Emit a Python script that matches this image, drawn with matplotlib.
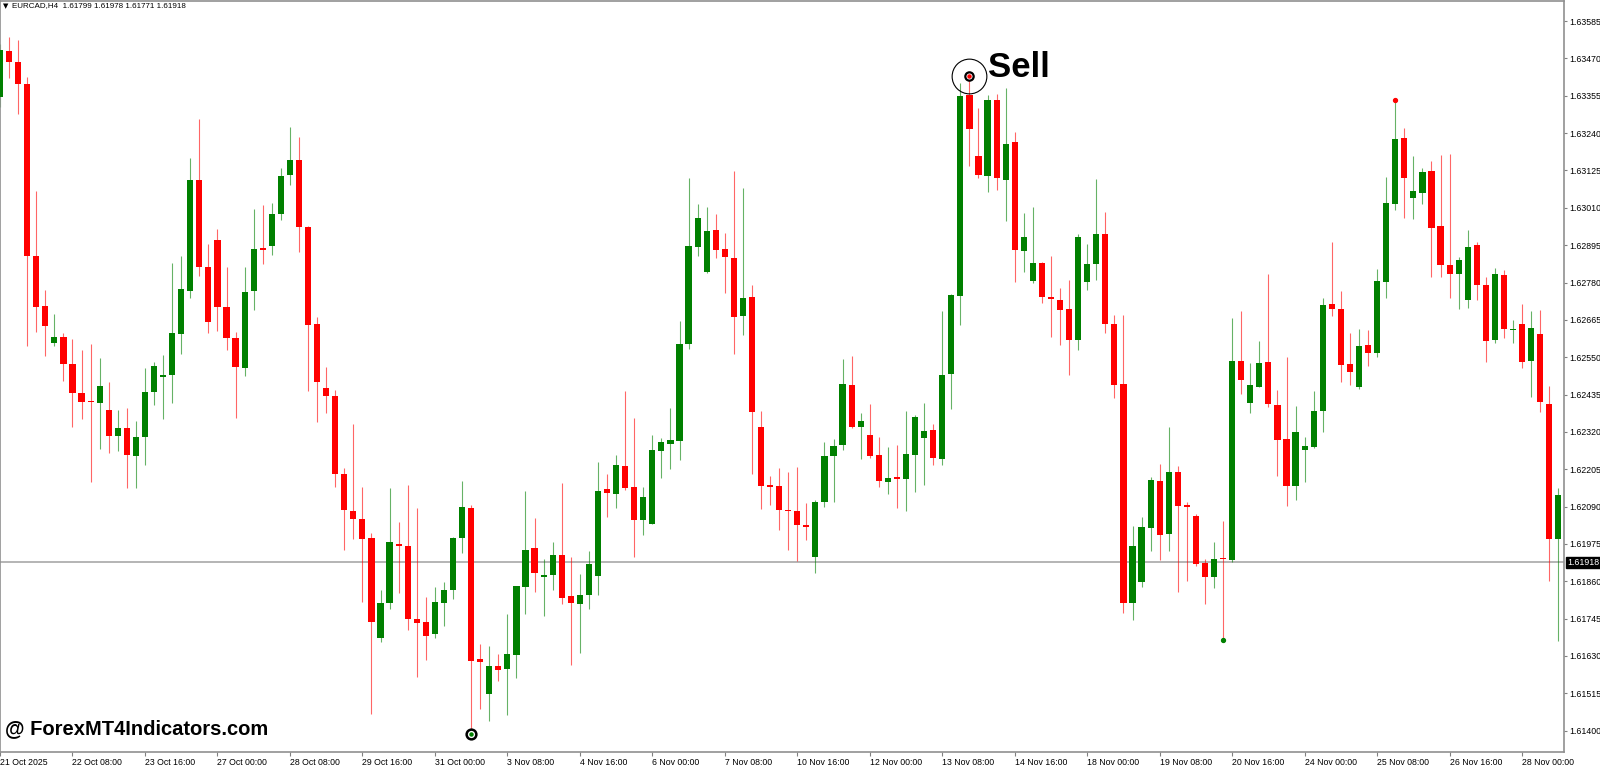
import matplotlib
matplotlib.use("Agg")
import matplotlib.pyplot as plt

# EURCAD H4 candles (bar 0 = 21 Oct 2025 00:00)
opens = [1.63351, 1.63493, 1.63459, 1.63391, 1.62862, 1.62708, 1.62594, 1.62612, 1.62529, 1.62440,
         1.62415, 1.62409, 1.62387, 1.62307, 1.62332, 1.62246, 1.62304, 1.62443, 1.62489, 1.62495,
         1.62621, 1.62754, 1.63096, 1.62828, 1.62911, 1.62704, 1.62609, 1.62517, 1.62754, 1.62886,
         1.62892, 1.62991, 1.63111, 1.63157, 1.62951, 1.62652, 1.62455, 1.62430, 1.62190, 1.62076,
         1.62052, 1.61993, 1.61685, 1.61793, 1.61975, 1.61968, 1.61744, 1.61734, 1.61697, 1.61793,
         1.61833, 1.61993, 1.62085, 1.61620, 1.61513, 1.61599, 1.61590, 1.61633, 1.61842, 1.61962,
         1.61873, 1.61879, 1.61941, 1.61814, 1.61790, 1.61817, 1.61876, 1.62144, 1.62129, 1.62215,
         1.62150, 1.62048, 1.62036, 1.62261, 1.62282, 1.62292, 1.62590, 1.62889, 1.62812, 1.62942,
         1.62883, 1.62855, 1.62677, 1.62735, 1.62335, 1.62156, 1.62153, 1.62079, 1.62076, 1.62033,
         1.61934, 1.62104, 1.62246, 1.62279, 1.62464, 1.62335, 1.62310, 1.62249, 1.62165, 1.62181,
         1.62175, 1.62249, 1.62301, 1.62326, 1.62236, 1.62498, 1.62738, 1.63357, 1.63170, 1.63108,
         1.63342, 1.63096, 1.63213, 1.62877, 1.62785, 1.62840, 1.62735, 1.62726, 1.62698, 1.62603,
         1.62781, 1.62837, 1.62929, 1.62652, 1.62467, 1.61793, 1.61857, 1.62024, 1.62169, 1.62005,
         1.62196, 1.62095, 1.62061, 1.61916, 1.61873, 1.61931, 1.61925, 1.62538, 1.62409, 1.62458,
         1.62535, 1.62403, 1.62298, 1.62153, 1.62264, 1.62273, 1.62384, 1.62714, 1.62698, 1.62529,
         1.62458, 1.62587, 1.62563, 1.62781, 1.63022, 1.63225, 1.63040, 1.63056, 1.63123, 1.62954,
         1.62834, 1.62806, 1.62726, 1.62895, 1.62772, 1.62603, 1.62803, 1.62634, 1.62652, 1.62538,
         1.62621, 1.62406, 1.61990]
highs = [1.63515, 1.63536, 1.63527, 1.63413, 1.63062, 1.62757, 1.62683, 1.62624, 1.62606, 1.62572,
         1.62590, 1.62547, 1.62473, 1.62387, 1.62393, 1.62353, 1.62517, 1.62535, 1.62557, 1.62840,
         1.62862, 1.63163, 1.63284, 1.62899, 1.62945, 1.62828, 1.62627, 1.62828, 1.63006, 1.63019,
         1.63025, 1.63133, 1.63259, 1.63228, 1.62954, 1.62674, 1.62520, 1.62449, 1.62209, 1.62344,
         1.62150, 1.62008, 1.61833, 1.62147, 1.62042, 1.62156, 1.62085, 1.61811, 1.61842, 1.61857,
         1.61996, 1.62169, 1.62095, 1.61667, 1.61660, 1.61636, 1.61759, 1.61845, 1.62138, 1.62055,
         1.61928, 1.61981, 1.62162, 1.61934, 1.61882, 1.61953, 1.62227, 1.62190, 1.62249, 1.62446,
         1.62363, 1.62150, 1.62310, 1.62301, 1.62393, 1.62661, 1.63102, 1.63022, 1.63012, 1.62991,
         1.62932, 1.63123, 1.63071, 1.62772, 1.62384, 1.62184, 1.62209, 1.62196, 1.62212, 1.62101,
         1.62110, 1.62289, 1.62298, 1.62544, 1.62554, 1.62378, 1.62406, 1.62304, 1.62273, 1.62279,
         1.62384, 1.62372, 1.62409, 1.62344, 1.62692, 1.62745, 1.63394, 1.63416, 1.63317, 1.63357,
         1.63361, 1.63379, 1.63243, 1.62994, 1.63012, 1.62843, 1.62862, 1.62763, 1.62788, 1.62929,
         1.62899, 1.63099, 1.62997, 1.62680, 1.62680, 1.62030, 1.62058, 1.62181, 1.62221, 1.62335,
         1.62215, 1.62104, 1.62067, 1.61928, 1.61981, 1.62045, 1.62671, 1.62692, 1.62532, 1.62600,
         1.62806, 1.62449, 1.62550, 1.62400, 1.62304, 1.62446, 1.62732, 1.62905, 1.62754, 1.62624,
         1.62637, 1.62634, 1.62822, 1.63105, 1.63342, 1.63256, 1.63170, 1.63133, 1.63154, 1.63173,
         1.63176, 1.62858, 1.62942, 1.62905, 1.62797, 1.62825, 1.62818, 1.62664, 1.62714, 1.62692,
         1.62695, 1.62461, 1.62147]
lows = [1.63320, 1.63410, 1.63299, 1.62584, 1.62627, 1.62554, 1.62584, 1.62477, 1.62335, 1.62360,
        1.62165, 1.62267, 1.62255, 1.62261, 1.62147, 1.62147, 1.62218, 1.62403, 1.62360, 1.62409,
        1.62560, 1.62732, 1.62800, 1.62624, 1.62631, 1.62572, 1.62363, 1.62492, 1.62695, 1.62837,
        1.62865, 1.62972, 1.63080, 1.62874, 1.62446, 1.62350, 1.62378, 1.62150, 1.61956, 1.61990,
        1.61796, 1.61451, 1.61673, 1.61774, 1.61824, 1.61710, 1.61565, 1.61617, 1.61685, 1.61722,
        1.61805, 1.61947, 1.61402, 1.61466, 1.61429, 1.61553, 1.61448, 1.61562, 1.61759, 1.61827,
        1.61753, 1.61833, 1.61790, 1.61602, 1.61639, 1.61774, 1.61817, 1.62058, 1.62085, 1.62141,
        1.61934, 1.62002, 1.62036, 1.62178, 1.62205, 1.62233, 1.62575, 1.62862, 1.62809, 1.62855,
        1.62748, 1.62560, 1.62618, 1.62190, 1.62082, 1.62095, 1.62018, 1.61956, 1.61922, 1.61987,
        1.61885, 1.62088, 1.62104, 1.62264, 1.62332, 1.62236, 1.62239, 1.62150, 1.62129, 1.62085,
        1.62076, 1.62135, 1.62156, 1.62218, 1.62218, 1.62390, 1.62649, 1.63139, 1.63102, 1.63059,
        1.63065, 1.62969, 1.62781, 1.62812, 1.62778, 1.62717, 1.62612, 1.62587, 1.62495, 1.62572,
        1.62757, 1.62788, 1.62624, 1.62424, 1.61762, 1.61740, 1.61842, 1.61953, 1.61925, 1.61953,
        1.61827, 1.61861, 1.61907, 1.61790, 1.61839, 1.61679, 1.61919, 1.62437, 1.62378, 1.62458,
        1.62396, 1.62184, 1.62092, 1.62110, 1.62165, 1.62270, 1.62319, 1.62677, 1.62473, 1.62464,
        1.62452, 1.62523, 1.62550, 1.62732, 1.63003, 1.62979, 1.62976, 1.63022, 1.62797, 1.62797,
        1.62732, 1.62698, 1.62701, 1.62726, 1.62535, 1.62594, 1.62609, 1.62594, 1.62517, 1.62427,
        1.62381, 1.61861, 1.61676]
closes = [1.63496, 1.63459, 1.63391, 1.62862, 1.62704, 1.62646, 1.62612, 1.62529, 1.62440, 1.62412,
          1.62412, 1.62461, 1.62307, 1.62332, 1.62249, 1.62304, 1.62443, 1.62523, 1.62495, 1.62624,
          1.62760, 1.63096, 1.62828, 1.62658, 1.62704, 1.62609, 1.62520, 1.62751, 1.62883, 1.62880,
          1.62991, 1.63108, 1.63157, 1.62951, 1.62649, 1.62473, 1.62430, 1.62190, 1.62079, 1.62052,
          1.61990, 1.61734, 1.61793, 1.61981, 1.61968, 1.61744, 1.61731, 1.61691, 1.61796, 1.61833,
          1.61993, 1.62088, 1.61614, 1.61611, 1.61599, 1.61586, 1.61636, 1.61845, 1.61956, 1.61885,
          1.61879, 1.61941, 1.61808, 1.61793, 1.61817, 1.61913, 1.62138, 1.62132, 1.62218, 1.62147,
          1.62048, 1.62119, 1.62264, 1.62289, 1.62295, 1.62590, 1.62892, 1.62979, 1.62939, 1.62880,
          1.62858, 1.62674, 1.62732, 1.62381, 1.62153, 1.62150, 1.62079, 1.62076, 1.62033, 1.62027,
          1.62104, 1.62246, 1.62276, 1.62467, 1.62335, 1.62353, 1.62246, 1.62169, 1.62178, 1.62175,
          1.62252, 1.62366, 1.62323, 1.62239, 1.62495, 1.62741, 1.63354, 1.63253, 1.63111, 1.63342,
          1.63102, 1.63207, 1.62880, 1.62920, 1.62840, 1.62735, 1.62729, 1.62695, 1.62603, 1.62920,
          1.62837, 1.62929, 1.62652, 1.62464, 1.61793, 1.61968, 1.62027, 1.62172, 1.62002, 1.62196,
          1.62092, 1.62088, 1.61913, 1.61873, 1.61928, 1.61928, 1.62538, 1.62480, 1.62464, 1.62532,
          1.62406, 1.62295, 1.62153, 1.62319, 1.62276, 1.62384, 1.62711, 1.62698, 1.62526, 1.62504,
          1.62584, 1.62563, 1.62785, 1.63025, 1.63222, 1.63102, 1.63062, 1.63120, 1.62948, 1.62834,
          1.62806, 1.62849, 1.62889, 1.62772, 1.62600, 1.62806, 1.62637, 1.62637, 1.62535, 1.62640,
          1.62412, 1.61990, 1.62125]

date_ticks = ["21 Oct 2025", "22 Oct 08:00", "23 Oct 16:00", "27 Oct 00:00", "28 Oct 08:00",
              "29 Oct 16:00", "31 Oct 00:00", "3 Nov 08:00", "4 Nov 16:00", "6 Nov 00:00",
              "7 Nov 08:00", "10 Nov 16:00", "12 Nov 00:00", "13 Nov 08:00", "14 Nov 16:00",
              "18 Nov 00:00", "19 Nov 08:00", "20 Nov 16:00", "24 Nov 00:00", "25 Nov 08:00",
              "26 Nov 16:00", "28 Nov 00:00"]
price_levels = [1.63585, 1.63470, 1.63355, 1.63240, 1.63125, 1.63010, 1.62895, 1.62780,
                1.62665, 1.62550, 1.62435, 1.62320, 1.62205, 1.62090, 1.61975, 1.61860,
                1.61745, 1.61630, 1.61515, 1.61400]
bid = 1.61918
title_txt = "EURCAD,H4  1.61799 1.61978 1.61771 1.61918"
sell_bar = 107
buy_bar = 52
red_dot_bar = 154
green_dot_bar = 135

BULL = "#008000"
BEAR = "#ff0000"
FS = 6.3
SMALL = "Liberation Sans"

fig = plt.figure(figsize=(16, 7.65), dpi=100)
ax = fig.add_axes([0, 13 / 765, 1564 / 1600, 751 / 765])

n = len(opens)
idx = list(range(n))
cols = [BULL if c >= o else BEAR for o, c in zip(opens, closes)]

ax.vlines(idx, lows, highs, colors=cols, linewidth=0.8, alpha=0.6, zorder=2)
bottoms = [min(o, c) for o, c in zip(opens, closes)]
heights = [max(abs(c - o), 0.00004) for o, c in zip(opens, closes)]
ax.bar(idx, heights, bottom=bottoms, width=0.68, color=cols, linewidth=0, zorder=3)

ax.axhline(bid, color="#a0a0a0", linewidth=1.1, zorder=1)

ax.set_xlim(0, 1564 / 9.06)
ax.set_ylim(1.61334, 1.63647)

ax.yaxis.tick_right()
ax.set_yticks(price_levels)
ax.set_yticklabels([f"{v:.5f}" for v in price_levels], family=SMALL)
ax.set_xticks([8 * k for k in range(len(date_ticks))])
ax.set_xticklabels(date_ticks, family=SMALL)
for lbl in ax.get_xticklabels():
    lbl.set_horizontalalignment("left")
ax.tick_params(axis="x", direction="out", length=3, width=0.8, color="#808080",
               pad=1.5, labelsize=FS)
ax.tick_params(axis="y", direction="out", length=2.5, width=0.8, color="#808080",
               pad=1.0, labelsize=FS)
for s in ax.spines.values():
    s.set_color("#909090")
    s.set_linewidth(1.2)

# current bid price box
ax.annotate(f"{bid:.5f}", xy=(1.0, bid), xycoords=("axes fraction", "data"),
            xytext=(2.5, 0), textcoords="offset points", fontsize=FS, color="white",
            family=SMALL, va="center", ha="left",
            bbox=dict(boxstyle="square,pad=0.15", fc="black", ec="black"))

# signal markers
sx, sy = sell_bar, highs[sell_bar]
ax.plot([sx], [sy], marker="o", markersize=25, mfc="none", mec="black", mew=0.8, zorder=5)
ax.plot([sx], [sy], marker="o", markersize=6, mfc="white", mec="black", mew=1.6, zorder=6)
ax.plot([sx], [sy], marker="o", markersize=2.2, mfc=BEAR, mec=BEAR, zorder=7)
ax.annotate("Sell", xy=(sx, sy), xytext=(19, 9), textcoords="offset pixels",
            fontsize=25, fontweight="bold", family="Liberation Sans", va="center", ha="left")

bx, by = buy_bar, lows[buy_bar] - 0.00012
ax.plot([bx], [by], marker="o", markersize=7, mfc="white", mec="black", mew=1.8, zorder=6)
ax.plot([bx], [by], marker="o", markersize=2.2, mfc=BULL, mec=BULL, zorder=7)

ax.plot([red_dot_bar], [highs[red_dot_bar]], marker="o", markersize=2.8, color=BEAR, zorder=6)
ax.plot([green_dot_bar], [lows[green_dot_bar]], marker="o", markersize=2.8, color=BULL, zorder=6)

fig.text(3 / 1600, 1 - 6 / 765, "\u25bc", fontsize=5, va="center", ha="left")
fig.text(12 / 1600, 1 - 6 / 765, title_txt, fontsize=5.8, family=SMALL, va="center", ha="left")
fig.text(5 / 1600, 1 - 729 / 765, "@ ForexMT4Indicators.com", fontsize=14.5,
         fontweight="bold", family="Liberation Sans", va="center", ha="left")

fig.savefig("out.png", dpi=100)
